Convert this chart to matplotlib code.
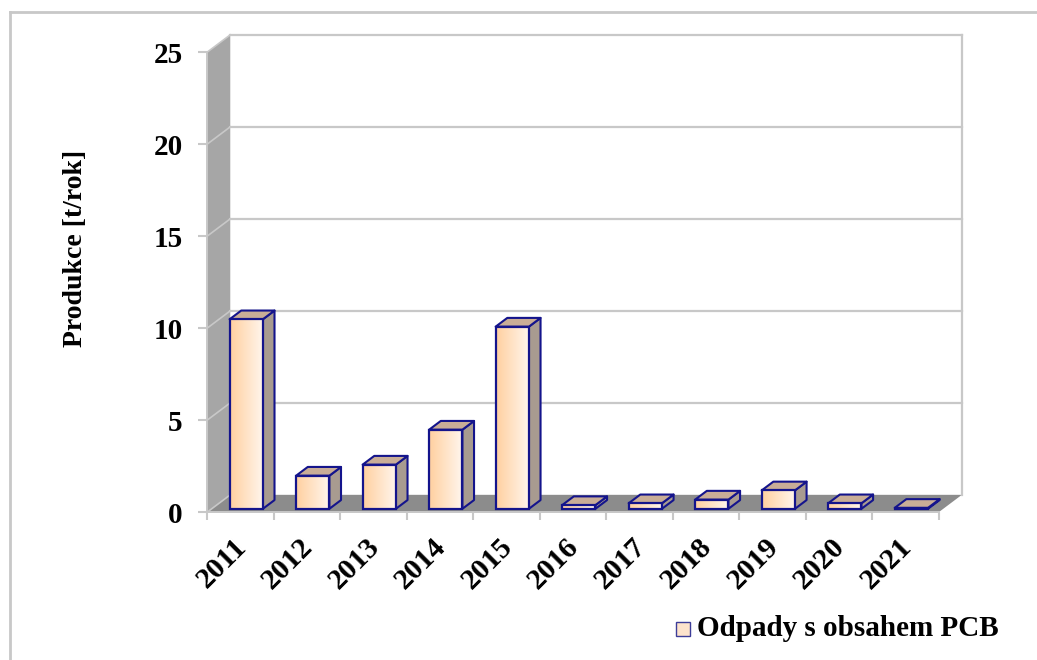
import matplotlib
matplotlib.use("Agg")
import matplotlib.pyplot as plt
import numpy as np
from matplotlib.patches import Polygon, Rectangle
from matplotlib.colors import LinearSegmentedColormap
from matplotlib.transforms import offset_copy
from matplotlib.lines import Line2D

# data
years = ["2011", "2012", "2013", "2014", "2015", "2016",
         "2017", "2018", "2019", "2020", "2021"]
production = [10.3, 1.8, 2.4, 4.3, 9.9, 0.2, 0.3, 0.5, 1.0, 0.3, 0.05]
y_ticks = [0, 5, 10, 15, 20, 25]
y_title = "Produkce [t/rok]"
series_name = "Odpady s obsahem PCB"

# pseudo 3d geometry (data units)
DX, DY = 0.35, 0.95      # depth of the floor / walls
BAR_X = 0.27             # bar offset inside its slot
BAR_W = 0.5
BAR_D0, BAR_D = 0.2, 0.5  # bar depth start / depth (fraction of full depth)

GRID = "#c8c8c8"
WALL = "#a6a6a6"
FLOOR = "#8c8c8c"
EDGE = "#14148c"
TOP = "#c9ad97"
SIDE = "#a89b90"
front_cmap = LinearSegmentedColormap.from_list("front", ["#ffd0a0", "#fff6ee"])

plt.rcParams["font.family"] = ["Liberation Serif", "DejaVu Serif"]
plt.rcParams["font.weight"] = "bold"

W, H = 1037, 660
fig = plt.figure(figsize=(W / 100, H / 100), dpi=100)
ax = fig.add_axes([207 / W, (H - 512.3) / H, 731.6 / W, 460 / H])
n = len(years)

# left wall
ax.add_patch(Polygon([(0, 0), (0, 25), (DX, 25 + DY), (DX, DY)],
                     closed=True, fc=WALL, ec="none", clip_on=False, zorder=1))
# floor
ax.add_patch(Polygon([(0, 0), (n, 0), (n + DX, DY), (DX, DY)],
                     closed=True, fc=FLOOR, ec="none", clip_on=False, zorder=1))

# grid on back wall + diagonals on the side wall
for v in y_ticks:
    if v > 0:
        ax.plot([DX, n + DX], [v + DY, v + DY], color=GRID, lw=1.6,
                clip_on=False, zorder=2)
    ax.plot([0, DX], [v, v + DY], color=GRID, lw=1.2, clip_on=False, zorder=2)
ax.plot([n + DX, n + DX], [DY, 25 + DY], color=GRID, lw=1.6, clip_on=False, zorder=2)

# bars
for i, v in enumerate(production):
    x0 = i + BAR_X + BAR_D0 * DX
    y0 = BAR_D0 * DY
    bdx, bdy = BAR_D * DX, BAR_D * DY
    top = [(x0, y0 + v), (x0 + BAR_W, y0 + v),
           (x0 + BAR_W + bdx, y0 + v + bdy), (x0 + bdx, y0 + v + bdy)]
    side = [(x0 + BAR_W, y0), (x0 + BAR_W + bdx, y0 + bdy),
            (x0 + BAR_W + bdx, y0 + v + bdy), (x0 + BAR_W, y0 + v)]
    ax.add_patch(Polygon(side, closed=True, fc=SIDE, ec=EDGE, lw=1.5,
                         clip_on=False, zorder=4, joinstyle="round"))
    ax.add_patch(Polygon(top, closed=True, fc=TOP, ec=EDGE, lw=1.5,
                         clip_on=False, zorder=4, joinstyle="round"))
    front = Rectangle((x0, y0), BAR_W, v, fc="none", ec=EDGE, lw=1.6,
                      clip_on=False, zorder=6)
    ax.add_patch(front)
    grad = np.linspace(0, 1, 64).reshape(1, -1)
    im = ax.imshow(grad, cmap=front_cmap, extent=[x0, x0 + BAR_W, y0, y0 + v],
                   aspect="auto", zorder=5, interpolation="bilinear")
    im.set_clip_path(front)

ax.set_xlim(0, n)
ax.set_ylim(0, 25)
ax.set_facecolor("none")

for s in ["top", "right"]:
    ax.spines[s].set_visible(False)
for s in ["left", "bottom"]:
    ax.spines[s].set_color(GRID)
    ax.spines[s].set_linewidth(1.4)

ax.set_yticks(y_ticks)
ax.set_yticklabels([str(t) for t in y_ticks], fontsize=21, fontweight="bold")
ax.tick_params(axis="y", length=6.5, width=1.5, color=GRID, pad=11)
ax.set_xticks(range(n + 1))
ax.set_xticklabels([])
ax.tick_params(axis="x", length=6, width=1.5, color=GRID)

lab_tr = offset_copy(ax.transData, fig=fig, x=-5.5, y=-15, units="points")
for i, yr in enumerate(years):
    ax.text(i + 0.5, 0, yr, transform=lab_tr, rotation=45, rotation_mode="anchor",
            ha="right", va="top", fontsize=21.5, fontweight="bold")

fig.text(75 / W, 1 - 248 / H, y_title, rotation=90, ha="center", va="center",
         fontsize=20, fontweight="bold")

# legend
fig.add_artist(Rectangle((676 / W, 1 - 636 / H), 14 / W, 14 / H,
                         transform=fig.transFigure, fc="#fde3cc", ec="#3d3d99", lw=1))
fig.text(697 / W, 1 - 629 / H, series_name, ha="left", va="center",
         fontsize=21, fontweight="bold")

# outer chart border
fig.add_artist(Line2D([9.5 / W, 1], [1 - 12 / H, 1 - 12 / H],
                      transform=fig.transFigure, color=GRID, lw=2))
fig.add_artist(Line2D([9.5 / W, 9.5 / W], [0, 1 - 12 / H],
                      transform=fig.transFigure, color=GRID, lw=2))

fig.savefig("out.png", dpi=100)
